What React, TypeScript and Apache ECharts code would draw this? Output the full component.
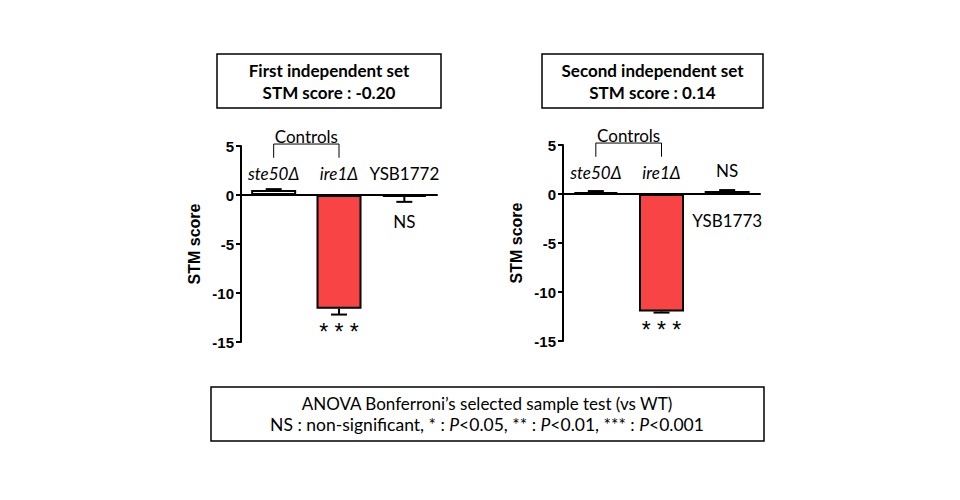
import { useEffect, useRef } from 'react';
import * as echarts from 'echarts';

// two independent sets, one panel each
const categoriesA = ['ste50Δ', 'ire1Δ', 'YSB1772'];
const categoriesB = ['ste50Δ', 'ire1Δ', 'YSB1773'];
const italicCats = [true, true, false];

const scoresA = [0.5, -11.6, -0.2];
const errorsA = [0.1, 0.6, 0.5];
const scoresB = [0.2, -12.0, 0.3];
const errorsB = [0.1, 0.1, 0.1];

const signifA = ['', '***', 'NS'];
const signifB = ['', '***', 'NS'];

const yMin = -15;
const yMax = 5;
const yStep = 5;

const titlesA = ['First independent set', 'STM score : -0.20'];
const titlesB = ['Second independent set', 'STM score : 0.14'];

const RED = '#f84444';
const SANS = 'Lato, "Open Sans", sans-serif';
const ARIAL = '"Liberation Sans", Arial, sans-serif';

export default function App() {
  const chartRef = useRef<HTMLDivElement>(null);

  useEffect(() => {
    if (!chartRef.current) return;
    const chart = echarts.init(chartRef.current, undefined, { renderer: 'svg' });

    const panel = (
      i: number,
      cats: string[],
      scores: number[],
      errors: number[],
      signif: string[],
      labelBelowLast: boolean
    ) => {
      const catLabels = cats.map((c, k) => {
        const below = labelBelowLast && k === cats.length - 1;
        return {
          value: [k, below ? -2.7 : 2.2],
          label: { formatter: c, fontStyle: italicCats[k] ? 'italic' : 'normal' },
        };
      });
      const sigLabels = signif
        .map((s, k) => {
          if (!s) return null;
          if (s === '***') {
            return {
              value: [k, scores[k] - errors[k] - 0.6],
              label: {
                formatter: s.split('').join(' '),
                fontFamily: ARIAL,
                fontSize: 23,
                verticalAlign: 'top',
              },
            };
          }
          return { value: [k, labelBelowLast ? 2.4 : -2.7], label: { formatter: s } };
        })
        .filter(Boolean);

      return [
        {
          type: 'bar',
          xAxisIndex: i,
          yAxisIndex: i,
          barWidth: 45,
          data: scores.map((v, k) => ({
            value: v,
            itemStyle: { color: k === 1 ? RED : k === 0 && i === 0 ? '#fff' : '#000' },
          })),
          itemStyle: { borderColor: '#000', borderWidth: 2 },
          z: 2,
        },
        {
          type: 'custom',
          xAxisIndex: i,
          yAxisIndex: i,
          data: scores.map((v, k) => [k, v, errors[k]]),
          encode: { x: 0, y: 1 },
          z: 3,
          renderItem: (_p: unknown, api: any) => {
            const idx = api.value(0);
            const v = api.value(1);
            const e = api.value(2);
            const end = v + (v < 0 ? -e : e);
            const p0 = api.coord([idx, v]);
            const p1 = api.coord([idx, end]);
            const st = { stroke: '#000', lineWidth: 2 };
            return {
              type: 'group',
              children: [
                { type: 'line', shape: { x1: p0[0], y1: p0[1], x2: p1[0], y2: p1[1] }, style: st },
                { type: 'line', shape: { x1: p1[0] - 8, y1: p1[1], x2: p1[0] + 8, y2: p1[1] }, style: st },
              ],
            };
          },
        },
        {
          type: 'custom',
          xAxisIndex: i,
          yAxisIndex: i,
          data: [[0, 1]],
          encode: { x: [0, 1] },
          renderItem: (_p: unknown, api: any) => {
            const a = api.coord([api.value(0), 5.2]);
            const b = api.coord([api.value(1), 5.2]);
            const a2 = api.coord([api.value(0), 3.8]);
            const b2 = api.coord([api.value(1), 3.8]);
            return {
              type: 'group',
              children: [
                {
                  type: 'polyline',
                  shape: { points: [[a2[0], a2[1]], [a[0], a[1]], [b[0], b[1]], [b2[0], b2[1]]] },
                  style: { stroke: '#000', lineWidth: 1, fill: 'none' },
                },
                {
                  type: 'text',
                  style: {
                    text: 'Controls',
                    x: (a[0] + b[0]) / 2,
                    y: a[1] - 8,
                    align: 'center',
                    verticalAlign: 'middle',
                    fontSize: 17,
                    fontFamily: SANS,
                    fill: '#000',
                  },
                },
              ],
            };
          },
        },
        {
          type: 'scatter',
          xAxisIndex: i,
          yAxisIndex: i,
          symbolSize: 0,
          itemStyle: { opacity: 1 },
          data: [...catLabels, ...sigLabels],
          label: {
            show: true,
            position: 'inside',
            color: '#000',
            opacity: 1,
            fontSize: 17,
            fontFamily: SANS,
          },
          z: 5,
        },
      ];
    };

    const axisX = (i: number, cats: string[]) => ({
      gridIndex: i,
      type: 'category',
      data: cats,
      axisLine: { onZero: true, lineStyle: { color: '#000', width: 2 } },
      axisTick: { alignWithLabel: true, length: 5, lineStyle: { color: '#000', width: 2 } },
      axisLabel: { show: false },
      splitLine: { show: false },
    });

    const axisY = (i: number) => ({
      gridIndex: i,
      type: 'value',
      min: yMin,
      max: yMax,
      interval: yStep,
      name: 'STM score',
      nameLocation: 'middle',
      nameGap: 39,
      nameTextStyle: { fontFamily: ARIAL, fontWeight: 'bold', fontSize: 16, color: '#000' },
      axisLine: { show: true, lineStyle: { color: '#000', width: 2 } },
      axisTick: { show: true, length: 5, lineStyle: { color: '#000', width: 2 } },
      axisLabel: { fontFamily: ARIAL, fontWeight: 'bold', fontSize: 15, color: '#000', margin: 7 },
      splitLine: { show: false },
    });

    const box = (x: number, y: number, w: number, h: number, lines: string[], bold: boolean) => [
      {
        type: 'rect',
        shape: { x, y, width: w, height: h },
        style: { fill: '#fff', stroke: '#000', lineWidth: 1.5 },
      },
      ...lines.map((t, k) => ({
        type: 'text',
        style: {
          text: t,
          x: x + w / 2,
          y: y + h / 2 + (k - (lines.length - 1) / 2) * 22,
          align: 'center',
          verticalAlign: 'middle',
          fontSize: 17,
          fontWeight: bold ? 'bold' : 'normal',
          fontFamily: SANS,
          fill: '#000',
        },
      })),
    ];

    chart.setOption({
      animation: false,
      backgroundColor: '#fff',
      grid: [
        { left: 241, top: 146, width: 196, height: 196 },
        { left: 563, top: 145, width: 197, height: 196 },
      ],
      xAxis: [axisX(0, categoriesA), axisX(1, categoriesB)],
      yAxis: [axisY(0), axisY(1)],
      series: [
        ...panel(0, categoriesA, scoresA, errorsA, signifA, false),
        ...panel(1, categoriesB, scoresB, errorsB, signifB, true),
      ],
      graphic: [
        ...box(217, 54, 224, 54, titlesA, true),
        ...box(542, 54, 221, 54, titlesB, true),
        {
          type: 'rect',
          shape: { x: 211, y: 387, width: 553, height: 54 },
          style: { fill: '#fff', stroke: '#000', lineWidth: 1.5 },
        },
        {
          type: 'text',
          style: {
            text: 'ANOVA Bonferroni’s selected sample test (vs WT)',
            x: 487,
            y: 403,
            align: 'center',
            verticalAlign: 'middle',
            fontSize: 17,
            fontFamily: SANS,
            fill: '#000',
          },
        },
        {
          type: 'text',
          style: {
            text:
              '{n|NS : non-significant, * : }{i|P}{n|<0.05, ** : }{i|P}{n|<0.01, *** : }{i|P}{n|<0.001}',
            x: 487,
            y: 424,
            align: 'center',
            verticalAlign: 'middle',
            rich: {
              n: { fontSize: 17.5, fontFamily: SANS, fill: '#000' },
              i: { fontSize: 17.5, fontFamily: SANS, fontStyle: 'italic', fill: '#000' },
            },
          },
        },
      ],
    });

    return () => chart.dispose();
  }, []);

  return (
    <div
      ref={chartRef}
      style={{ position: 'absolute', left: 0, top: 0, width: 960, height: 500, background: '#fff' }}
    />
  );
}
